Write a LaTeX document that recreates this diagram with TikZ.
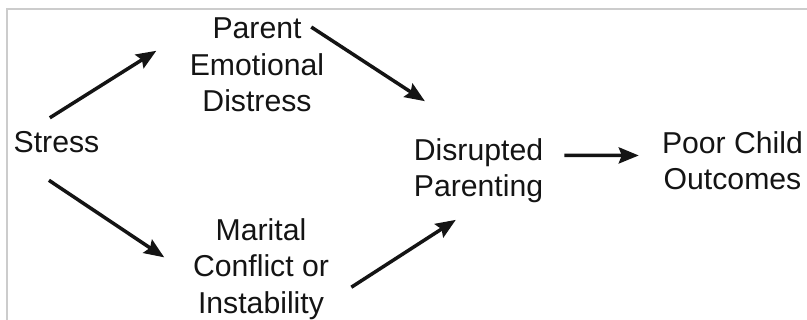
\documentclass[tikz,border=0pt]{standalone}
\usepackage{fontspec}
\setmainfont{Liberation Sans}
\usetikzlibrary{arrows.meta}
\definecolor{framegray}{RGB}{204, 204, 204}
\definecolor{ink}{RGB}{20, 20, 20}

\begin{document}
\begin{tikzpicture}[
  label/.style={align=center, inner sep=2pt, text=ink, font=\fontsize{30.2}{36.5}\selectfont},
  link/.style={line width=3.5pt, color=ink, -{Stealth[length=20pt, width=16pt, inset=3pt]}}]
\useasboundingbox (0pt, 0pt) rectangle (807pt, -320pt);
\draw [line width=2pt, color=framegray] (7pt, -320pt) -- (7pt, -9pt) -- (807pt, -9pt);
\node (stress) [label] at (56.5pt, -142.4pt) {Stress};
\node (parent) [label] at (257.0pt, -64.9pt) {Parent\\Emotional\\Distress};
\node (marital) [label] at (261.0pt, -269.0pt) {Marital\\Conflict or\\Instability};
\node (disrupted) [label] at (478.5pt, -170.7pt) {Disrupted\\Parenting};
\node (poor) [label] at (732.5pt, -160.6pt) {Poor Child\\Outcomes};
\draw [link, shorten <=22pt, shorten >=37pt] (stress.153) to (parent.154);
\draw [link, shorten <=-18pt, shorten >=64pt] (parent.22) to (disrupted.north);
\draw [link, shorten <=45pt, shorten >=32pt] (stress.south west) to (marital.185);
\draw [link, shorten <=24pt, shorten >=27pt] (marital.336) to (disrupted.south);
\draw [link, shorten <=19pt, shorten >=21pt] (disrupted.13) to (poor.176);
\end{tikzpicture}
\end{document}
